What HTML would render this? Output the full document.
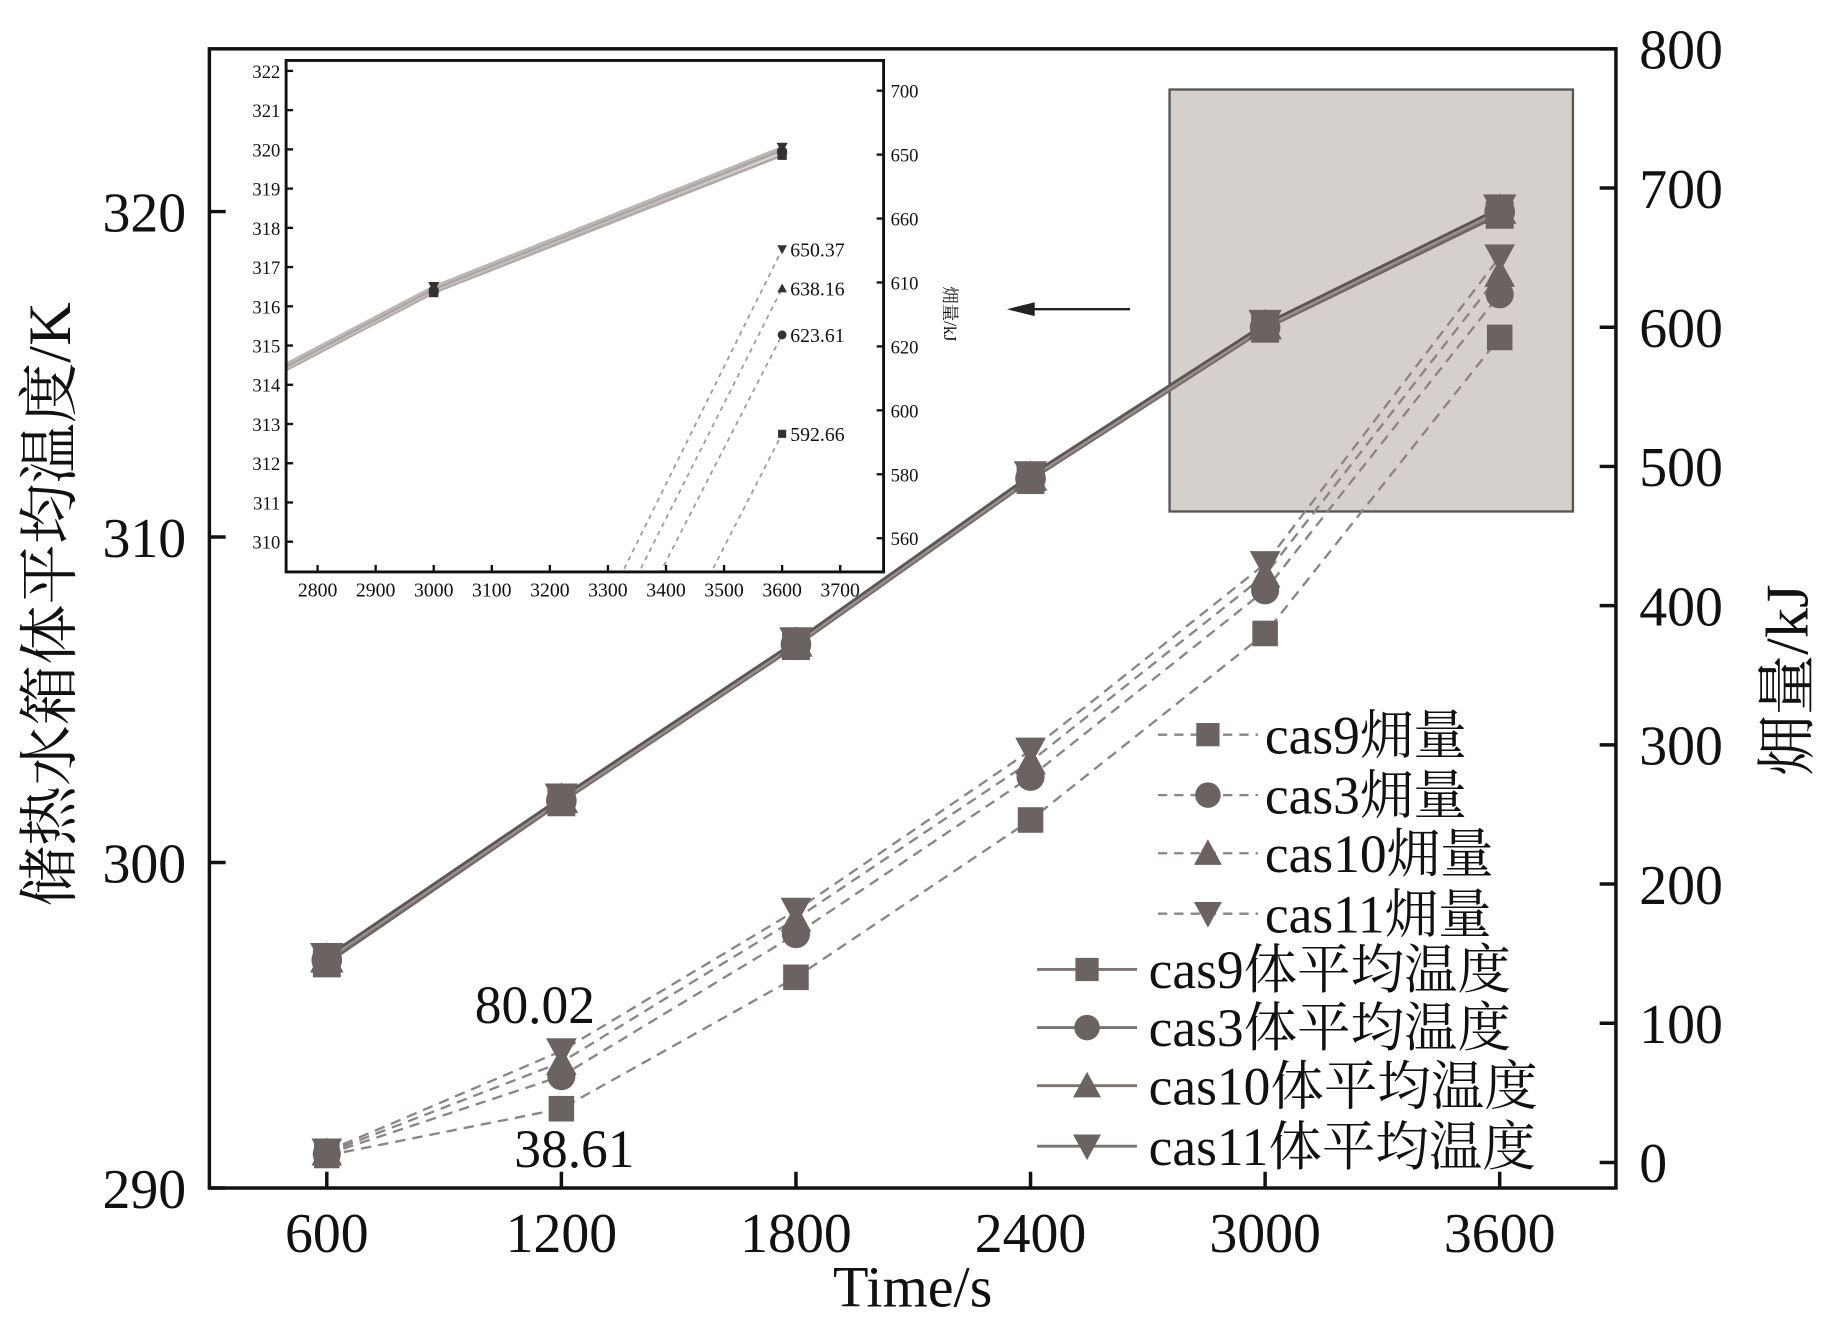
<!DOCTYPE html>
<html><head><meta charset="utf-8">
<style>
html,body{margin:0;padding:0;background:#fff;overflow:hidden;width:1823px;height:1331px;}
svg{display:block;}
text{font-family:"Liberation Serif","Noto Serif CJK SC","Noto Sans CJK SC",serif;fill:#111;}
</style></head>
<body>
<svg id="chart" width="1823" height="1331" viewBox="0 0 1568 1145" xmlns="http://www.w3.org/2000/svg">
<rect width="1568" height="1145" fill="#fff"/>
<rect x="1006" y="77" width="347" height="363" fill="#d6d0cd" stroke="#555" stroke-width="2"/>
<g id="main"></g>
<g id="inset"></g>
<g id="legend"></g>
</svg>
<script>
const times = [600, 1200, 1800, 2400, 3000, 3600];
const seriesNames = ["cas9", "cas3", "cas10", "cas11"];
const markers = ["square", "circle", "triangle", "invtriangle"];
const tempCas9 = [296.9, 301.85, 306.65, 311.75, 316.4, 319.9];
const tempCas3 = [297.0, 301.9, 306.7, 311.8, 316.45, 320.0];
const tempCas10 = [297.05, 301.95, 306.75, 311.85, 316.5, 320.05];
const tempCas11 = [297.1, 302.0, 306.8, 311.9, 316.55, 320.1];
const exCas9 = [5, 38.61, 133, 246, 380, 592.66];
const exCas3 = [6, 62, 164, 277, 411, 623.61];
const exCas10 = [7, 72, 175, 288, 422, 638.16];
const exCas11 = [8, 80.02, 181, 296, 430, 650.37];
const xTicks = [600, 1200, 1800, 2400, 3000, 3600];
const yLeftTicks = [290, 300, 310, 320];
const yRightTicks = [0, 100, 200, 300, 400, 500, 600, 700, 800];
const insetXTicks = [2800, 2900, 3000, 3100, 3200, 3300, 3400, 3500, 3600, 3700];
const insetYTicks = [310, 311, 312, 313, 314, 315, 316, 317, 318, 319, 320, 321, 322];
const insetRightLabels = ["560", "580", "600", "620", "610", "660", "650", "700"];
const insetRightValues = [560, 580, 600, 620, 640, 660, 680, 700];

const NS = "http://www.w3.org/2000/svg";
function mk(parent, tag, attrs, txt) {
  const e = document.createElementNS(NS, tag);
  for (const k in attrs) e.setAttribute(k, attrs[k]);
  if (txt !== undefined) e.textContent = txt;
  parent.appendChild(e);
  return e;
}
const temps = [tempCas9, tempCas3, tempCas10, tempCas11];
const exs = [exCas9, exCas3, exCas10, exCas11];

const L = 180, R = 1390, T = 42, B = 1022;
const xS = t => 281 + (t - 600) * (1009 / 3000);
const yL = v => 1022 - (v - 290) * 28;
const yR = v => 1000 - v * (958 / 800);

function marker(g, type, x, y, s, fill) {
  let e;
  if (type === "square") e = mk(g, "rect", {x: x - s, y: y - s, width: 2 * s, height: 2 * s, fill: fill});
  else if (type === "circle") e = mk(g, "circle", {cx: x, cy: y, r: s * 1.1, fill: fill});
  else if (type === "triangle") e = mk(g, "polygon", {points: `${x},${y - s * 1.2} ${x - s * 1.2},${y + s} ${x + s * 1.2},${y + s}`, fill: fill});
  else e = mk(g, "polygon", {points: `${x},${y + s * 1.2} ${x - s * 1.2},${y - s} ${x + s * 1.2},${y - s}`, fill: fill});
  return e;
}

const main = document.getElementById("main");
exs.forEach((arr, i) => {
  const pts = arr.map((v, j) => xS(times[j]) + "," + yR(v)).join(" ");
  const pl = mk(main, "polyline", {points: pts, fill: "none", stroke: "#8c8482", "stroke-width": 2, "stroke-dasharray": "9,6"});
  
  
});
temps.forEach((arr, i) => {
  const pts = arr.map((v, j) => xS(times[j]) + "," + yL(v)).join(" ");
  const pl = mk(main, "polyline", {points: pts, fill: "none", stroke: ["#6e6664", "#8a8280", "#a09896", "#5e5654"][i], "stroke-width": 2.5});
  
  
});
exs.forEach((arr, i) => {
  arr.forEach((v, j) => {
    const m = marker(main, markers[i], xS(times[j]), yR(v), 11, "#6b6362");
    
    
  });
});
temps.forEach((arr, i) => {
  arr.forEach((v, j) => {
    const m = marker(main, markers[i], xS(times[j]), yL(v), 12, "#6b6362");
    
    
  });
});
const fr = mk(main, "rect", {x: L, y: T, width: R - L, height: B - T, fill: "none", stroke: "#111", "stroke-width": 3});


xTicks.forEach(t => {
  mk(main, "line", {x1: xS(t), x2: xS(t), y1: B, y2: B - 14, stroke: "#111", "stroke-width": 3});
  const tx = mk(main, "text", {x: xS(t), y: 1077, "font-size": 48, "text-anchor": "middle"}, t);
  
  
});
yLeftTicks.forEach(v => {
  mk(main, "line", {x1: L, x2: L + 14, y1: yL(v), y2: yL(v), stroke: "#111", "stroke-width": 3});
  const tx = mk(main, "text", {x: 160, y: yL(v) + 17, "font-size": 48, "text-anchor": "end"}, v);
  
  
});
yRightTicks.forEach(v => {
  mk(main, "line", {x1: R, x2: R - 14, y1: yR(v), y2: yR(v), stroke: "#111", "stroke-width": 3});
  const tx = mk(main, "text", {x: 1410, y: yR(v) + 17, "font-size": 48}, v);
  
  
});
let t;
t = mk(main, "text", {x: 785, y: 1124, "font-size": 50, "text-anchor": "middle"}, "Time/s");
 
t = mk(main, "text", {x: 0, y: 0, "font-size": 52, "text-anchor": "middle", transform: "translate(60,520) rotate(-90)"}, "储热水箱体平均温度/K");
 
t = mk(main, "text", {x: 0, y: 0, "font-size": 52, "text-anchor": "middle", transform: "translate(1555,585) rotate(-90)"}, "㶲量/kJ");
 
t = mk(main, "text", {x: 460, y: 880, "font-size": 46, "text-anchor": "middle"}, exCas11[1].toFixed(2));
 
t = mk(main, "text", {x: 494, y: 1004, "font-size": 46, "text-anchor": "middle"}, exCas9[1].toFixed(2));
 
const ar = mk(main, "g", {});
 
mk(ar, "line", {x1: 972, y1: 266, x2: 884, y2: 266, stroke: "#222", "stroke-width": 2});
mk(ar, "polygon", {points: "866,266 890,260 890,272", fill: "#222"});

const ins = document.getElementById("inset");
const iL = 246, iR = 760, iT = 52, iB = 492;
const ixS = v => 373 + (v - 3000) * 0.4995;
const iyL = v => 466 - (v - 310) * 33.75;
const iyR = v => 463 - (v - 560) * 2.75;
const bg = mk(ins, "rect", {x: iL, y: iT, width: iR - iL, height: iB - iT, fill: "#fff"});
 
mk(ins, "clipPath", {id: "ic"});
mk(document.getElementById("ic"), "rect", {x: iL, y: iT, width: iR - iL, height: iB - iT});
const ig = mk(ins, "g", {"clip-path": "url(#ic)"});
exs.forEach((arr, i) => {
  const pts = arr.map((v, j) => ixS(times[j]) + "," + iyR(v)).join(" ");
  const pl = mk(ig, "polyline", {points: pts, fill: "none", stroke: "#a09896", "stroke-width": 1.5, "stroke-dasharray": "4,4"});
  
  
});
temps.forEach((arr, i) => {
  const pts = arr.map((v, j) => ixS(times[j]) + "," + iyL(v - 0.05)).join(" ");
  const pl = mk(ig, "polyline", {points: pts, fill: "none", stroke: ["#b0aaa8", "#c4bebc", "#a8a2a0", "#bcb6b4"][i], "stroke-width": 2.5});
  
  
});
temps.forEach((arr, i) => {
  arr.forEach((v, j) => {
    const m = marker(ig, markers[i], ixS(times[j]), iyL(v - 0.05), 4, "#333");
    
    
  });
});
exs.forEach((arr, i) => {
  const x = ixS(times[5]), y = iyR(arr[5]);
  const m = marker(ig, markers[i], x, y, 3.5, "#333");
  
  
  const lb = mk(ig, "text", {x: x + 7, y: y + 6, "font-size": 17}, arr[5].toFixed(2));
  
  
});
const ifr = mk(ins, "rect", {x: iL, y: iT, width: iR - iL, height: iB - iT, fill: "none", stroke: "#111", "stroke-width": 2.5});
 
insetXTicks.forEach(v => {
  mk(ins, "line", {x1: ixS(v), x2: ixS(v), y1: iB, y2: iB - 6, stroke: "#111", "stroke-width": 2});
  const tx = mk(ins, "text", {x: ixS(v), y: 513, "font-size": 17, "text-anchor": "middle"}, v);
   
});
insetYTicks.forEach(v => {
  mk(ins, "line", {x1: iL, x2: iL + 6, y1: iyL(v), y2: iyL(v), stroke: "#111", "stroke-width": 2});
  const tx = mk(ins, "text", {x: 241, y: iyL(v) + 6, "font-size": 16, "text-anchor": "end"}, v);
   
});
insetRightValues.forEach((v, k) => {
  mk(ins, "line", {x1: iR, x2: iR - 6, y1: iyR(v), y2: iyR(v), stroke: "#111", "stroke-width": 2});
  const tx = mk(ins, "text", {x: 766, y: iyR(v) + 6, "font-size": 16}, insetRightLabels[k]);
   
});
t = mk(ins, "text", {x: 0, y: 0, "font-size": 15, "text-anchor": "middle", transform: "translate(812,270) rotate(90)"}, "㶲量/kJ");
 

const lg = document.getElementById("legend");
const exRows = [632, 684, 734, 786], tRows = [834, 884, 934, 986];
seriesNames.forEach((n, i) => {
  const g = mk(lg, "g", {});
  
  
  mk(g, "line", {x1: 996, x2: 1082, y1: exRows[i], y2: exRows[i], stroke: "#8c8482", "stroke-width": 2, "stroke-dasharray": "8,6"});
  marker(g, markers[i], 1039, exRows[i], 10, "#6b6362");
  mk(g, "text", {x: 1088, y: exRows[i] + 16, "font-size": 46}, n + "㶲量");
});
seriesNames.forEach((n, i) => {
  const g = mk(lg, "g", {});
  
  
  mk(g, "line", {x1: 892, x2: 978, y1: tRows[i], y2: tRows[i], stroke: "#7c7472", "stroke-width": 2.5});
  marker(g, markers[i], 935, tRows[i], 10, "#6b6362");
  mk(g, "text", {x: 988, y: tRows[i] + 16, "font-size": 46}, n + "体平均温度");
});
</script>
</body></html>
